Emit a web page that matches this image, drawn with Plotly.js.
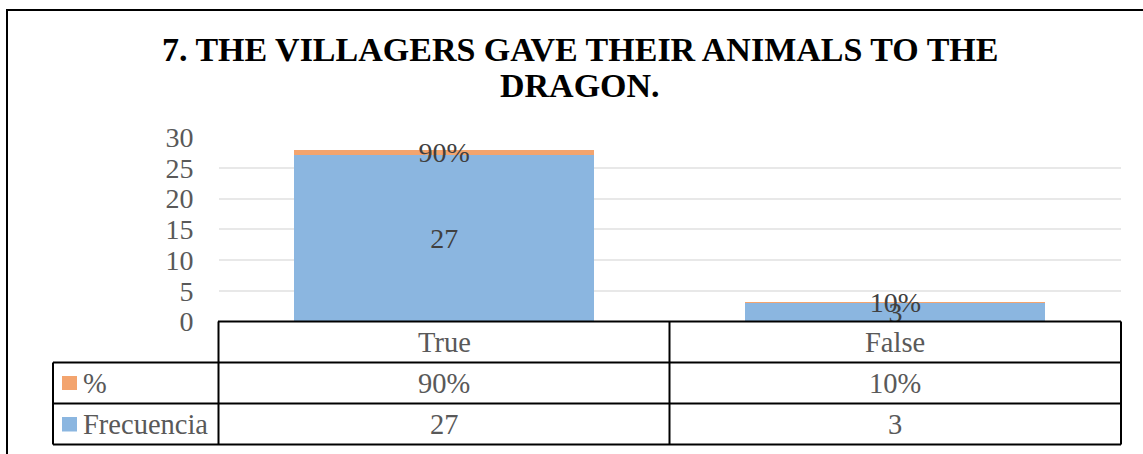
<!DOCTYPE html>
<html>
<head>
<meta charset="utf-8">
<script src="https://cdn.plot.ly/plotly-3.0.1.min.js"></script>
<style>
  html, body { margin: 0; padding: 0; background: #ffffff; }
  #chart { width: 1143px; height: 454px; }
</style>
</head>
<body>
<div id="chart"></div>
<script>
// ---- data ----
const categories = ["True", "False"];
const frecuencia = [27, 3];
const porcentaje = [0.9, 0.1];
const seriesNames = ["%", "Frecuencia"];
const titleLines = ["7. THE VILLAGERS GAVE THEIR ANIMALS TO THE", "DRAGON."];
const yTicks = [0, 5, 10, 15, 20, 25, 30];

// ---- helpers ----
const W = 1143, H = 454;
const px = x => x / W;
const py = y => (H - y) / H;
const SERIF = "Liberation Serif, Times New Roman, serif";
const GRAY = "#595959";
const BLUE = "#8BB6E0";
const ORANGE = "#F3A46E";
const pct = v => Math.round(v * 100) + "%";

const traces = [
  {
    type: "bar", name: seriesNames[1], x: categories, y: frecuencia,
    marker: { color: BLUE },
    text: frecuencia.map(String), textposition: "inside", insidetextanchor: "middle",
    textangle: 0, cliponaxis: true,
    textfont: { family: SERIF, size: 28, color: "#404040" },
    hoverinfo: "none"
  },
  {
    type: "bar", name: seriesNames[0], x: categories, y: porcentaje,
    marker: { color: ORANGE },
    text: porcentaje.map(pct), textposition: "inside", insidetextanchor: "middle",
    textangle: 0, cliponaxis: true,
    textfont: { family: SERIF, size: 28, color: "#404040" },
    hoverinfo: "none"
  }
];

// table lines
const L = { type: "line", xref: "paper", yref: "paper", line: { color: "#000000", width: 2 } };
const shapes = [
  // outer chart border
  { type: "rect", xref: "paper", yref: "paper", x0: px(7), x1: px(1160), y0: py(470), y1: py(10),
    line: { color: "#000000", width: 2 }, fillcolor: "rgba(0,0,0,0)", layer: "below" },
  Object.assign({}, L, { x0: px(218), x1: px(1121), y0: py(321.5), y1: py(321.5) }),
  Object.assign({}, L, { x0: px(53), x1: px(1121), y0: py(362.5), y1: py(362.5) }),
  Object.assign({}, L, { x0: px(53), x1: px(1121), y0: py(403.5), y1: py(403.5) }),
  Object.assign({}, L, { x0: px(53), x1: px(1121), y0: py(444.5), y1: py(444.5) }),
  Object.assign({}, L, { x0: px(218.5), x1: px(218.5), y0: py(321.5), y1: py(444.5) }),
  Object.assign({}, L, { x0: px(669.5), x1: px(669.5), y0: py(321.5), y1: py(444.5) }),
  Object.assign({}, L, { x0: px(1121), x1: px(1121), y0: py(321.5), y1: py(444.5) }),
  Object.assign({}, L, { x0: px(53), x1: px(53), y0: py(362.5), y1: py(444.5) }),
  // legend keys
  { type: "rect", xref: "paper", yref: "paper", x0: px(62), x1: px(77), y0: py(390), y1: py(376),
    fillcolor: ORANGE, line: { width: 0 } },
  { type: "rect", xref: "paper", yref: "paper", x0: px(62), x1: px(77), y0: py(431.5), y1: py(417),
    fillcolor: BLUE, line: { width: 0 } }
];

const tfont = { family: SERIF, size: 28.5, color: GRAY };
const annotations = [];
// title
annotations.push({ xref: "paper", yref: "paper", x: px(580), y: py(50), text: titleLines[0],
  showarrow: false, xanchor: "center", yanchor: "middle",
  font: { family: SERIF, size: 34, color: "#000000", weight: "bold" } });
annotations.push({ xref: "paper", yref: "paper", x: px(580), y: py(85), text: titleLines[1],
  showarrow: false, xanchor: "center", yanchor: "middle",
  font: { family: SERIF, size: 34, color: "#000000", weight: "bold" } });
// table rows
categories.forEach((c, i) => {
  annotations.push({ xref: "x", yref: "paper", x: c, y: py(342), text: c, showarrow: false,
    xanchor: "center", yanchor: "middle", font: tfont });
  annotations.push({ xref: "x", yref: "paper", x: c, y: py(383), text: pct(porcentaje[i]), showarrow: false,
    xanchor: "center", yanchor: "middle", font: tfont });
  annotations.push({ xref: "x", yref: "paper", x: c, y: py(424), text: String(frecuencia[i]), showarrow: false,
    xanchor: "center", yanchor: "middle", font: tfont });
});
annotations.push({ xref: "paper", yref: "paper", x: px(81), y: py(383), text: seriesNames[0], showarrow: false,
  xanchor: "left", yanchor: "middle", font: tfont });
annotations.push({ xref: "paper", yref: "paper", x: px(81), y: py(424), text: seriesNames[1], showarrow: false,
  xanchor: "left", yanchor: "middle", font: tfont });

const layout = {
  width: W, height: H,
  margin: { l: 0, r: 0, t: 0, b: 0 },
  paper_bgcolor: "#ffffff", plot_bgcolor: "#ffffff",
  barmode: "stack", bargap: 0.335,
  showlegend: false,
  uniformtext: { mode: "show", minsize: 28 },
  xaxis: {
    domain: [px(218.5), px(1121)],
    showticklabels: false, showgrid: false, zeroline: false, showline: false, ticks: "",
    fixedrange: true
  },
  yaxis: {
    domain: [py(321.5), py(137)],
    range: [0, 30], tickvals: yTicks, ticktext: yTicks.map(String),
    showgrid: true, gridcolor: "#E8E8E8", gridwidth: 2,
    zeroline: false, showline: false, ticks: "",
    ticklabelstandoff: 24,
    tickfont: { family: SERIF, size: 28, color: GRAY },
    fixedrange: true
  },
  shapes: shapes,
  annotations: annotations
};

Plotly.newPlot("chart", traces, layout, { displayModeBar: false, staticPlot: true });
</script>
</body>
</html>
